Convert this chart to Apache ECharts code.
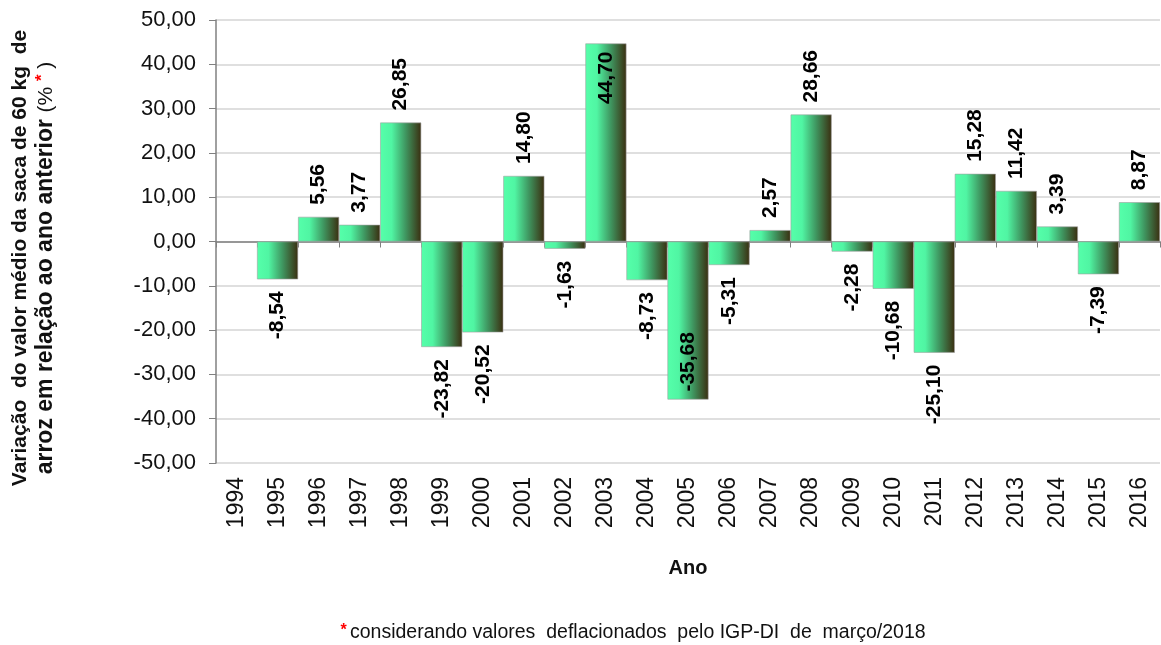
<!DOCTYPE html>
<html>
<head>
<meta charset="utf-8">
<script src="https://cdn.jsdelivr.net/npm/echarts@6/dist/echarts.min.js"></script>
<style>
  html, body { margin: 0; padding: 0; background: #ffffff; }
  #chart { width: 1161px; height: 645px; }
</style>
</head>
<body>
<div id="chart"></div>
<script>
// anos e variação (%)
var anos = ['1994', '1995', '1996', '1997', '1998', '1999', '2000', '2001', '2002', '2003', '2004', '2005',
  '2006', '2007', '2008', '2009', '2010', '2011', '2012', '2013', '2014', '2015', '2016'];
var variacao = [null, -8.54, 5.56, 3.77, 26.85, -23.82, -20.52, 14.80, -1.63, 44.70, -8.73, -35.68,
  -5.31, 2.57, 28.66, -2.28, -10.68, -25.10, 15.28, 11.42, 3.39, -7.39, 8.87];
// rótulos que ficam dentro da barra
var rotuloDentro = ['2003', '2005'];

function fmt(v) {
  return v.toFixed(2).replace('.', ',');
}

var barColor = new echarts.graphic.LinearGradient(0, 0, 1, 0, [
  {offset: 0, color: '#55ffaa'},
  {offset: 0.28, color: '#50f5a3'},
  {offset: 0.62, color: '#3f9660'},
  {offset: 1, color: '#3a2e10'}
]);

var dados = variacao.map(function (v, i) {
  if (v === null) return null;
  var dentro = rotuloDentro.indexOf(anos[i]) >= 0;
  var pos, align;
  if (v >= 0) {
    pos = dentro ? 'insideTop' : 'top';
    align = dentro ? 'right' : 'left';
  } else {
    pos = dentro ? 'insideBottom' : 'bottom';
    align = dentro ? 'left' : 'right';
  }
  return {
    value: v,
    label: {position: pos, align: align, distance: dentro ? 8 : 12}
  };
});

var chart = echarts.init(document.getElementById('chart'));
chart.setOption({
  animation: false,
  grid: {left: 216, right: 1, top: 20, bottom: 182, containLabel: false},
  xAxis: [
    {
      type: 'category',
      data: anos,
      axisLine: {onZero: true, lineStyle: {color: '#808080', width: 1.5}},
      axisTick: {show: true, length: 6, lineStyle: {color: '#808080'}},
      axisLabel: {show: false},
      splitLine: {show: false}
    },
    {
      type: 'category',
      data: anos,
      position: 'bottom',
      axisLine: {show: false},
      axisTick: {show: false},
      axisLabel: {
        rotate: 90,
        margin: 14,
        fontFamily: 'Liberation Sans, Arial, sans-serif',
        fontSize: 23,
        color: '#111'
      },
      name: 'Ano',
      nameLocation: 'middle',
      nameGap: 95,
      nameTextStyle: {fontFamily: 'Liberation Sans, Arial, sans-serif', fontSize: 20, fontWeight: 'bold', color: '#111'}
    }
  ],
  yAxis: {
    type: 'value',
    min: -50,
    max: 50,
    interval: 10,
    axisLine: {show: true, lineStyle: {color: '#808080', width: 1.5}},
    axisTick: {show: true, length: 7, lineStyle: {color: '#808080'}},
    axisLabel: {
      formatter: fmt,
      margin: 20,
      fontFamily: 'Liberation Sans, Arial, sans-serif',
      fontSize: 22,
      color: '#111'
    },
    splitLine: {show: true, lineStyle: {color: '#d4d4d4', width: 1.5}}
  },
  series: [{
    type: 'bar',
    xAxisIndex: 0,
    data: dados,
    barCategoryGap: '0%',
    itemStyle: {color: barColor, borderColor: '#a0a0a0', borderWidth: 0.6},
    label: {
      show: true,
      rotate: 90,
      verticalAlign: 'middle',
      fontFamily: 'Liberation Sans, Arial, sans-serif',
      fontSize: 21,
      fontWeight: 'bold',
      color: '#000',
      formatter: function (p) { return fmt(p.value); }
    }
  }],
  graphic: [
    {
      type: 'text',
      x: 20,
      y: 258,
      rotation: Math.PI / 2,
      style: {
        text: 'Variação  do valor médio da saca de 60 kg  de',
        font: 'bold 21px "Liberation Sans", Arial, sans-serif',
        fill: '#111',
        align: 'center',
        verticalAlign: 'middle'
      }
    },
    {
      type: 'text',
      x: 46,
      y: 268,
      rotation: Math.PI / 2,
      style: {
        text: '{b|arroz em relação ao ano anterior }{n|(% }{r|*}{n| )}',
        align: 'center',
        verticalAlign: 'middle',
        rich: {
          b: {font: 'bold 23px "Liberation Sans", Arial, sans-serif', fill: '#111'},
          n: {font: '21px "Liberation Sans", Arial, sans-serif', fill: '#111'},
          r: {font: 'bold 17px "Liberation Sans", Arial, sans-serif', fill: '#ff0000', verticalAlign: 'top', padding: [0, 0, 8, 0]}
        }
      }
    },
    {
      type: 'text',
      x: 633,
      y: 633,
      style: {
        text: '{r|*} {n|considerando valores  deflacionados  pelo IGP-DI  de  março/2018}',
        align: 'center',
        verticalAlign: 'middle',
        rich: {
          r: {font: 'bold 16px "Liberation Sans", Arial, sans-serif', fill: '#ff0000', padding: [0, 0, 4, 0]},
          n: {font: '19.5px "Liberation Sans", Arial, sans-serif', fill: '#111'}
        }
      }
    }
  ]
});
</script>
</body>
</html>
